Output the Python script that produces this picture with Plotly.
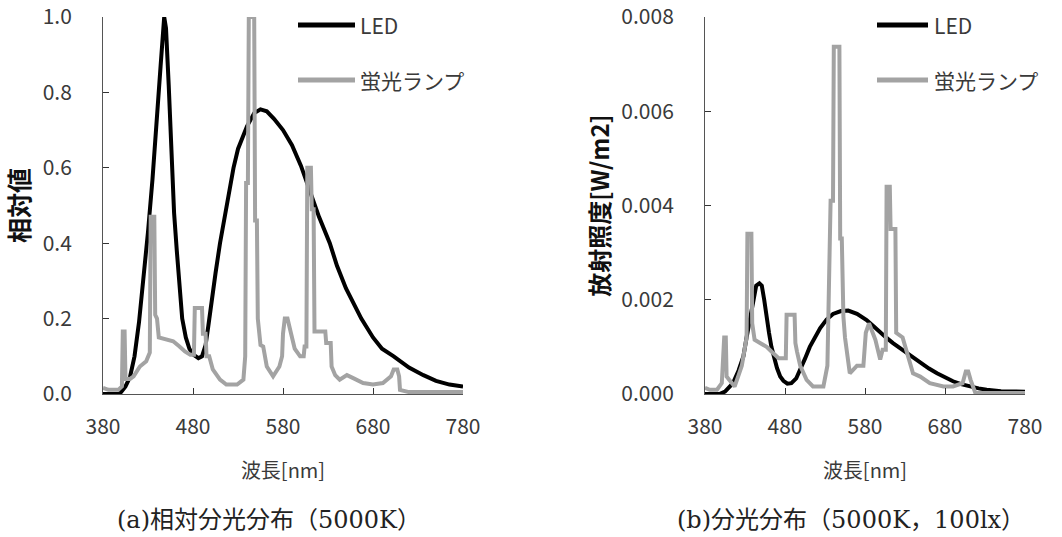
import plotly.graph_objects as go

# ---------------- data ----------------
led_rel_nm = [380, 398, 400, 405, 410, 415, 420, 425, 430, 435, 440, 444, 448, 450, 453, 456, 459, 462,
              465, 468, 472, 476, 480, 486, 490, 494, 497, 500, 505, 510, 515, 520, 525, 530, 540, 548,
              555, 562, 570, 580, 590, 600, 610, 620, 632, 640, 650, 660, 667, 680, 690, 703, 720, 736,
              750, 765, 780]
led_rel_val = [0, 0, 0.005, 0.02, 0.045, 0.1, 0.19, 0.3, 0.43, 0.57, 0.72, 0.87, 1.0, 0.97, 0.82, 0.62,
               0.48, 0.38, 0.28, 0.2, 0.15, 0.12, 0.105, 0.095, 0.1, 0.13, 0.18, 0.24, 0.32, 0.4, 0.47,
               0.54, 0.6, 0.65, 0.71, 0.745, 0.755, 0.75, 0.73, 0.7, 0.66, 0.605, 0.54, 0.47, 0.4, 0.34,
               0.28, 0.23, 0.2, 0.15, 0.12, 0.1, 0.07, 0.05, 0.035, 0.025, 0.02]

fl_rel_nm = [380, 386, 397, 401, 402, 404, 405, 410, 414, 418, 421, 428, 432, 433, 437, 438, 440, 442,
             451, 458, 465, 471, 477, 481, 482, 490, 491, 494, 495, 498, 502, 510, 517, 529, 536, 538,
             539, 541, 542, 548, 549, 551, 552, 555, 558, 562, 569, 576, 579, 580, 582, 585, 589, 593,
             599, 603, 604, 606, 607, 611, 612, 614, 615, 627, 628, 633, 634, 638, 643, 651, 658, 669,
             680, 691, 700, 703, 707, 709, 710, 720, 780]
fl_rel_val = [0.016, 0.011, 0.011, 0.02, 0.166, 0.166, 0.04, 0.04, 0.047, 0.06, 0.073, 0.087, 0.11,
              0.47, 0.47, 0.21, 0.2, 0.15, 0.145, 0.14, 0.126, 0.113, 0.104, 0.104, 0.228, 0.228, 0.16,
              0.16, 0.1, 0.1, 0.065, 0.038, 0.025, 0.025, 0.038, 0.1, 0.56, 0.56, 1.0, 1.0, 0.46, 0.46,
              0.2, 0.13, 0.126, 0.073, 0.047, 0.073, 0.1, 0.16, 0.2, 0.2, 0.16, 0.12, 0.1, 0.1, 0.126,
              0.126, 0.6, 0.6, 0.49, 0.49, 0.166, 0.166, 0.135, 0.135, 0.073, 0.05, 0.038, 0.05, 0.042,
              0.029, 0.025, 0.029, 0.047, 0.065, 0.065, 0.047, 0.011, 0.005, 0.005]

led_abs_nm = [380, 398, 405, 415, 422, 428, 432, 436, 440, 444, 448, 451, 454, 457, 460, 463, 466, 470,
              474, 478, 483, 488, 494, 499, 505, 511, 518, 524, 532, 540, 550, 559, 570, 582, 590, 599,
              607, 615, 624, 632, 640, 649, 660, 670, 680, 690, 700, 711, 722, 732, 750, 780]
led_abs_val = [0, 0, 0.00005, 0.00023, 0.0005, 0.0008, 0.0012, 0.0016, 0.002, 0.0023, 0.00235, 0.0023,
               0.002, 0.0016, 0.0013, 0.001, 0.00078, 0.00055, 0.00037, 0.00028, 0.00022, 0.00023,
               0.00033, 0.0005, 0.00075, 0.001, 0.00123, 0.0014, 0.00158, 0.0017, 0.00176, 0.00177,
               0.0017, 0.00157, 0.00145, 0.0013, 0.00119, 0.00108, 0.00097, 0.00087, 0.00077, 0.00066,
               0.00054, 0.00044, 0.00035, 0.00027, 0.00021, 0.00016, 0.00012, 0.00009, 0.00006, 0.00005]

fl_abs_nm = [380, 386, 395, 401, 404, 406, 407, 410, 417, 422, 426, 432, 433, 438, 439, 442, 449, 457,
             465, 472, 481, 482, 492, 493, 495, 499, 507, 515, 528, 533, 537, 540, 541, 548, 549, 551,
             553, 555, 561, 570, 578, 581, 585, 590, 593, 599, 602, 606, 607, 611, 612, 618, 619, 627,
             633, 640, 649, 661, 678, 690, 702, 706, 709, 712, 718, 780]
fl_abs_val = [0.00013, 0.00009, 0.00009, 0.00023, 0.0012, 0.0012, 0.00037, 0.0003, 0.00016, 0.0004,
              0.0006, 0.0012, 0.0034, 0.0034, 0.0015, 0.00115, 0.00108, 0.001, 0.00087, 0.00076,
              0.00076, 0.00168, 0.00168, 0.00108, 0.0009, 0.0006, 0.0003, 0.00016, 0.00016, 0.0006,
              0.0041, 0.0041, 0.00737, 0.00737, 0.0033, 0.0033, 0.00164, 0.0012, 0.00044, 0.0006,
              0.0006, 0.0013, 0.0015, 0.0013, 0.00115, 0.00073, 0.00094, 0.00094, 0.0044, 0.0044,
              0.0035, 0.0035, 0.0013, 0.0012, 0.00087, 0.00044, 0.00037, 0.00023, 0.00016, 0.00016,
              0.00023, 0.00048, 0.00048, 0.0003, 0.00002, 0.00002]

x_ticks = [380, 480, 580, 680, 780]
y1_ticks = [0.0, 0.2, 0.4, 0.6, 0.8, 1.0]
y2_ticks = [0.000, 0.002, 0.004, 0.006, 0.008]

series_names = ["LED", "蛍光ランプ"]
x_title = "波長[nm]"
y1_title = "相対値"
y2_title = "放射照度[W/m2]"
captions = ["(a)相対分光分布（5000K）", "(b)分光分布（5000K，100lx）"]

# ---------------- figure ----------------
W, H = 1062, 537
FONT = "Noto Sans CJK JP"
CAP_FONT = "DejaVu Serif, Noto Sans CJK JP"
BLACK = "#000000"
GRAY = "#a3a3a3"
TXT = "#3a3a3a"


def px_x(p):
    return p / W


def px_y(p):
    return 1 - p / H


fig = go.Figure()
fig.add_trace(go.Scatter(x=led_rel_nm, y=led_rel_val, mode="lines", name=series_names[0],
                         line=dict(color=BLACK, width=4), xaxis="x", yaxis="y", showlegend=False))
fig.add_trace(go.Scatter(x=fl_rel_nm, y=fl_rel_val, mode="lines", name=series_names[1],
                         line=dict(color=GRAY, width=4), xaxis="x", yaxis="y", showlegend=False))
fig.add_trace(go.Scatter(x=led_abs_nm, y=led_abs_val, mode="lines", name=series_names[0],
                         line=dict(color=BLACK, width=4), xaxis="x2", yaxis="y2", showlegend=False))
fig.add_trace(go.Scatter(x=fl_abs_nm, y=fl_abs_val, mode="lines", name=series_names[1],
                         line=dict(color=GRAY, width=4), xaxis="x2", yaxis="y2", showlegend=False))

axis_common = dict(showgrid=False, zeroline=False, showline=True, linecolor="#555555", linewidth=1,
                   ticks="inside", ticklen=6, tickcolor="#333333", tickwidth=1, automargin=False,
                   tickfont=dict(family=FONT, size=21, color=TXT))

fig.update_layout(
    width=W, height=H,
    margin=dict(l=0, r=0, t=0, b=0, pad=0, autoexpand=False),
    paper_bgcolor="white", plot_bgcolor="white",
    xaxis=dict(domain=[px_x(103), px_x(463)], range=[380, 780], tickvals=x_ticks,
               anchor="y", ticklabelstandoff=14,
               title=dict(text=x_title, font=dict(family=FONT, size=20, color=TXT), standoff=24),
               **axis_common),
    yaxis=dict(domain=[px_y(394), px_y(17)], range=[0, 1], tickvals=y1_ticks, tickformat=".1f",
               anchor="x", ticklabelstandoff=26,
               title=dict(text=y1_title, font=dict(family=FONT, size=25, color="#111111", weight="bold"),
                          standoff=6),
               **axis_common),
    xaxis2=dict(domain=[px_x(705), px_x(1025)], range=[380, 780], tickvals=x_ticks,
                anchor="y2", ticklabelstandoff=14,
                title=dict(text=x_title, font=dict(family=FONT, size=20, color=TXT), standoff=24),
                **axis_common),
    yaxis2=dict(domain=[px_y(394), px_y(17)], range=[0, 0.008], tickvals=y2_ticks, tickformat=".3f",
                anchor="x2", ticklabelstandoff=26,
                title=dict(text=y2_title, font=dict(family=FONT, size=24, color="#111111", weight="bold"),
                           standoff=4),
                **axis_common),
    showlegend=False,
)

# custom legends (line sample + label) for each panel
legend_specs = [
    (298, 355, 358),   # left panel: line start, line end, text start (px)
    (877, 928, 932),   # right panel
]
legend_rows = [(25, BLACK), (80, GRAY)]
for (lx0, lx1, tx) in legend_specs:
    for (ry, col), name in zip(legend_rows, series_names):
        fig.add_shape(type="line", xref="paper", yref="paper",
                      x0=px_x(lx0), x1=px_x(lx1), y0=px_y(ry), y1=px_y(ry),
                      line=dict(color=col, width=5))
        fig.add_annotation(xref="paper", yref="paper", x=px_x(tx), y=px_y(ry),
                           xanchor="left", yanchor="middle", showarrow=False, text=name,
                           font=dict(family=FONT, size=21, color=TXT))

# captions
for cx, cap in zip([269, 851], captions):
    fig.add_annotation(xref="paper", yref="paper", x=px_x(cx), y=px_y(520),
                       xanchor="center", yanchor="middle", showarrow=False, text=cap,
                       font=dict(family=CAP_FONT, size=24, color="#222222"))

fig.write_html("out.html")
